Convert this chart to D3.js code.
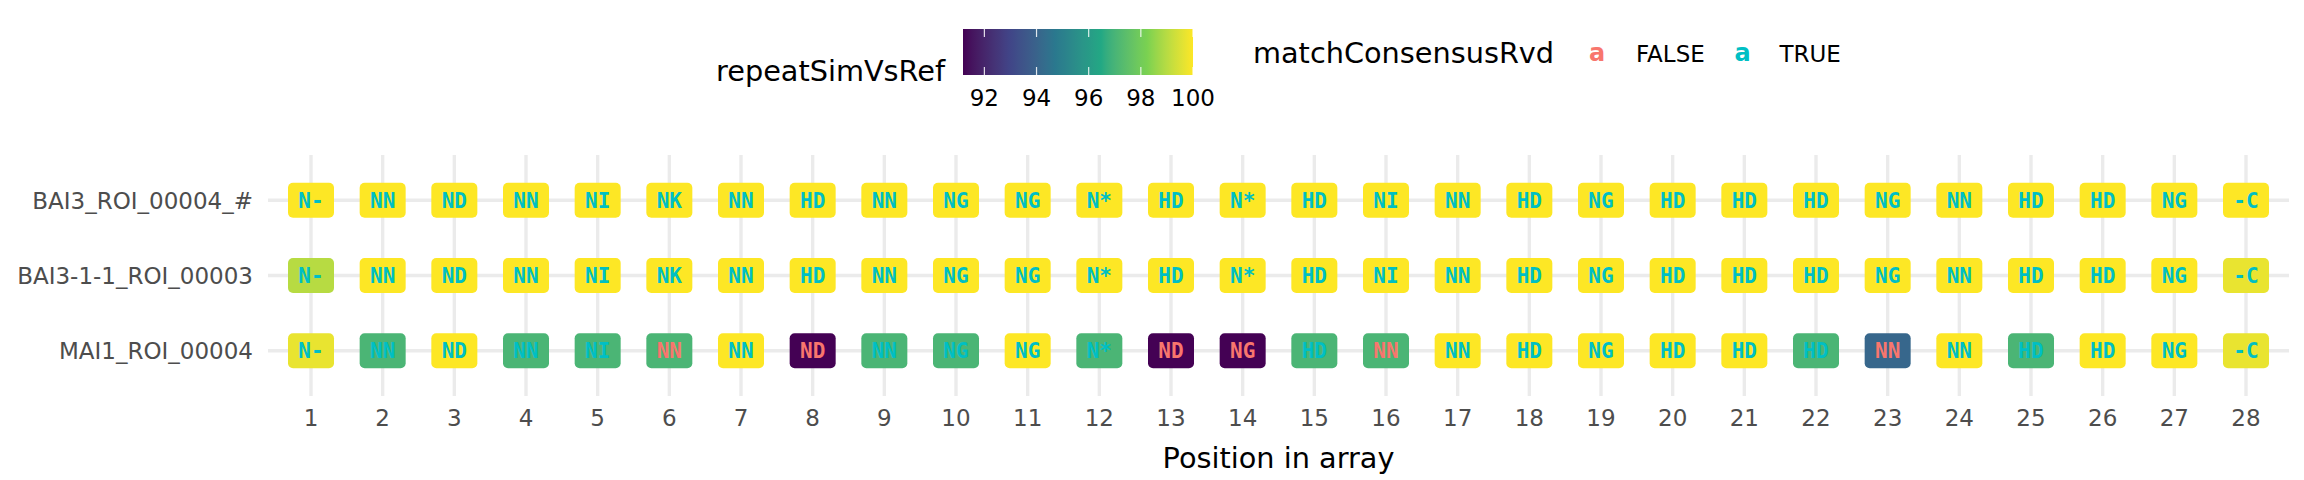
<!DOCTYPE html>
<html>
<head>
<meta charset="utf-8">
<script src="https://cdn.jsdelivr.net/npm/d3@7"></script>
<style>
  html, body { margin: 0; padding: 0; background: #fff; }
  svg { display: block; }
</style>
</head>
<body>
<svg id="chart" width="2304" height="480"></svg>
<script>
// ---- data ----
const rows = ["BAI3_ROI_00004_#", "BAI3-1-1_ROI_00003", "MAI1_ROI_00004"];
const positions = d3.range(1, 29);

const labelsBAI3 = ["N-","NN","ND","NN","NI","NK","NN","HD","NN","NG","NG","N*","HD","N*","HD","NI","NN","HD","NG","HD","HD","HD","NG","NN","HD","HD","NG","-C"];
const labelsBAI311 = ["N-","NN","ND","NN","NI","NK","NN","HD","NN","NG","NG","N*","HD","N*","HD","NI","NN","HD","NG","HD","HD","HD","NG","NN","HD","HD","NG","-C"];
const labelsMAI1 = ["N-","NN","ND","NN","NI","NN","NN","ND","NN","NG","NG","N*","ND","NG","HD","NN","NN","HD","NG","HD","HD","HD","NN","NN","HD","HD","NG","-C"];

const simBAI3 = [100,100,100,100,100,100,100,100,100,100,100,100,100,100,100,100,100,100,100,100,100,100,100,100,100,100,100,100];
const simBAI311 = [99.0,100,100,100,100,100,100,100,100,100,100,100,100,100,100,100,100,100,100,100,100,100,100,100,100,100,100,99.7];
const simMAI1 = [99.7,97.06,100,97.06,97.06,97.06,100,91.18,97.06,97.06,100,97.06,91.18,91.18,97.06,97.06,100,100,100,100,100,97.06,94.12,100,97.06,100,100,99.7];

const matchBAI3 = Array(28).fill(true);
const matchBAI311 = Array(28).fill(true);
const matchMAI1 = [true,true,true,true,true,false,true,false,true,true,true,true,false,false,true,false,true,true,true,true,true,true,false,true,true,true,true,true];

const colorTicks = [92, 94, 96, 98, 100];
const xTicks = positions;
const matchLevels = ["FALSE", "TRUE"];

// ---- build cells ----
const rowData = [
  {row: rows[0], labels: labelsBAI3, sim: simBAI3, match: matchBAI3},
  {row: rows[1], labels: labelsBAI311, sim: simBAI311, match: matchBAI311},
  {row: rows[2], labels: labelsMAI1, sim: simMAI1, match: matchMAI1}
];
const cells = [];
rowData.forEach(r => positions.forEach((p, i) => {
  cells.push({row: r.row, pos: p, label: r.labels[i], sim: r.sim[i], match: r.match[i]});
}));

// ---- scales ----
const svg = d3.select("#chart");
const panel = {left: 268, right: 2289, top: 155, bottom: 396};

const x = d3.scalePoint().domain(positions).range([panel.left, panel.right]).padding(0.6);
const y = d3.scalePoint().domain(rows).range([panel.top, panel.bottom]).padding(0.6);

const simMin = 91.18, simMax = 100;
const viridis6 = ["#440154", "#414487", "#2A788E", "#22A884", "#7AD151", "#FDE725"];
const color = d3.scaleLinear()
  .domain(d3.range(6).map(i => simMin + (simMax - simMin) * i / 5))
  .range(viridis6)
  .interpolate(d3.interpolateLab);
const textColor = d3.scaleOrdinal().domain([false, true]).range(["#F8766D", "#00BFC4"]);

// ---- grid ----
const grid = svg.append("g");
grid.selectAll("line.v").data(positions).join("line")
  .attr("x1", d => x(d)).attr("x2", d => x(d))
  .attr("y1", panel.top).attr("y2", panel.bottom)
  .attr("stroke", "#EBEBEB").attr("stroke-width", 3.4);
grid.selectAll("line.h").data(rows).join("line")
  .attr("x1", panel.left).attr("x2", panel.right)
  .attr("y1", d => y(d)).attr("y2", d => y(d))
  .attr("stroke", "#EBEBEB").attr("stroke-width", 3.4);

// ---- tiles ----
const tw = 46, th = 35;
const g = svg.append("g");
const cg = g.selectAll("g.cell").data(cells).join("g")
  .attr("transform", d => `translate(${x(d.pos)},${y(d.row)})`);
cg.append("rect")
  .attr("x", -tw / 2).attr("y", -th / 2).attr("width", tw).attr("height", th)
  .attr("rx", 5).attr("ry", 5)
  .attr("fill", d => color(d.sim));
cg.append("text")
  .attr("text-anchor", "middle").attr("dy", "0.36em")
  .attr("font-family", "DejaVu Sans Mono").attr("font-weight", "bold")
  .attr("font-size", 21)
  .attr("fill", d => textColor(d.match))
  .text(d => d.label);

// ---- axes ----
const yAxis = svg.append("g");
yAxis.selectAll("text").data(rows).join("text")
  .attr("x", 253).attr("y", d => y(d) + 8.6)
  .attr("text-anchor", "end")
  .attr("font-family", "DejaVu Sans").attr("font-size", 23).attr("fill", "#4D4D4D")
  .text(d => d);

const xAxis = svg.append("g");
xAxis.selectAll("text").data(xTicks).join("text")
  .attr("x", d => x(d)).attr("y", 426)
  .attr("text-anchor", "middle")
  .attr("font-family", "DejaVu Sans").attr("font-size", 23).attr("fill", "#4D4D4D")
  .text(d => d);

svg.append("text")
  .attr("x", (panel.left + panel.right) / 2).attr("y", 468)
  .attr("text-anchor", "middle")
  .attr("font-family", "DejaVu Sans").attr("font-size", 28.75).attr("fill", "#000")
  .text("Position in array");

// ---- colorbar legend ----
const cb = {x0: 963, x1: 1193, y0: 29, y1: 75};
const cbx = d3.scaleLinear().domain([simMin, simMax]).range([cb.x0, cb.x1]);
const defs = svg.append("defs");
const grad = defs.append("linearGradient").attr("id", "cbgrad")
  .attr("x1", "0%").attr("x2", "100%").attr("y1", "0%").attr("y2", "0%");
grad.selectAll("stop").data(d3.range(0, 1.0001, 0.02)).join("stop")
  .attr("offset", d => (d * 100) + "%")
  .attr("stop-color", d => color(simMin + d * (simMax - simMin)));
svg.append("rect")
  .attr("x", cb.x0).attr("y", cb.y0).attr("width", cb.x1 - cb.x0).attr("height", cb.y1 - cb.y0)
  .attr("fill", "url(#cbgrad)");
const cbt = svg.append("g");
cbt.selectAll("line.t").data(colorTicks).join("line")
  .attr("x1", d => cbx(d)).attr("x2", d => cbx(d))
  .attr("y1", cb.y0).attr("y2", cb.y0 + 8)
  .attr("stroke", "#fff").attr("stroke-width", 1.2).attr("stroke-opacity", 0.85);
cbt.selectAll("line.b").data(colorTicks).join("line")
  .attr("x1", d => cbx(d)).attr("x2", d => cbx(d))
  .attr("y1", cb.y1 - 8).attr("y2", cb.y1)
  .attr("stroke", "#fff").attr("stroke-width", 1.2).attr("stroke-opacity", 0.85);
cbt.selectAll("text").data(colorTicks).join("text")
  .attr("x", d => cbx(d)).attr("y", 106)
  .attr("text-anchor", "middle")
  .attr("font-family", "DejaVu Sans").attr("font-size", 23).attr("fill", "#000")
  .text(d => d);
svg.append("text")
  .attr("x", 716).attr("y", 80.5)
  .attr("font-family", "DejaVu Sans").attr("font-size", 28.75).attr("fill", "#000")
  .text("repeatSimVsRef");

// ---- discrete legend ----
svg.append("text")
  .attr("x", 1253).attr("y", 63)
  .attr("font-family", "DejaVu Sans").attr("font-size", 28.75).attr("fill", "#000")
  .text("matchConsensusRvd");
const keyX = {FALSE: 1597, TRUE: 1742.5};
const labX = {FALSE: 1636, TRUE: 1779.5};
const lg = svg.append("g");
lg.selectAll("text.key").data(matchLevels).join("text")
  .attr("x", d => keyX[d]).attr("y", 61)
  .attr("text-anchor", "middle")
  .attr("font-family", "DejaVu Sans").attr("font-weight", "bold").attr("font-size", 24)
  .attr("fill", d => textColor(d === "TRUE"))
  .text("a");
lg.selectAll("text.lab").data(matchLevels).join("text")
  .attr("x", d => labX[d]).attr("y", 61.5)
  .attr("font-family", "DejaVu Sans").attr("font-size", 23).attr("fill", "#000")
  .text(d => d);
</script>
</body>
</html>
